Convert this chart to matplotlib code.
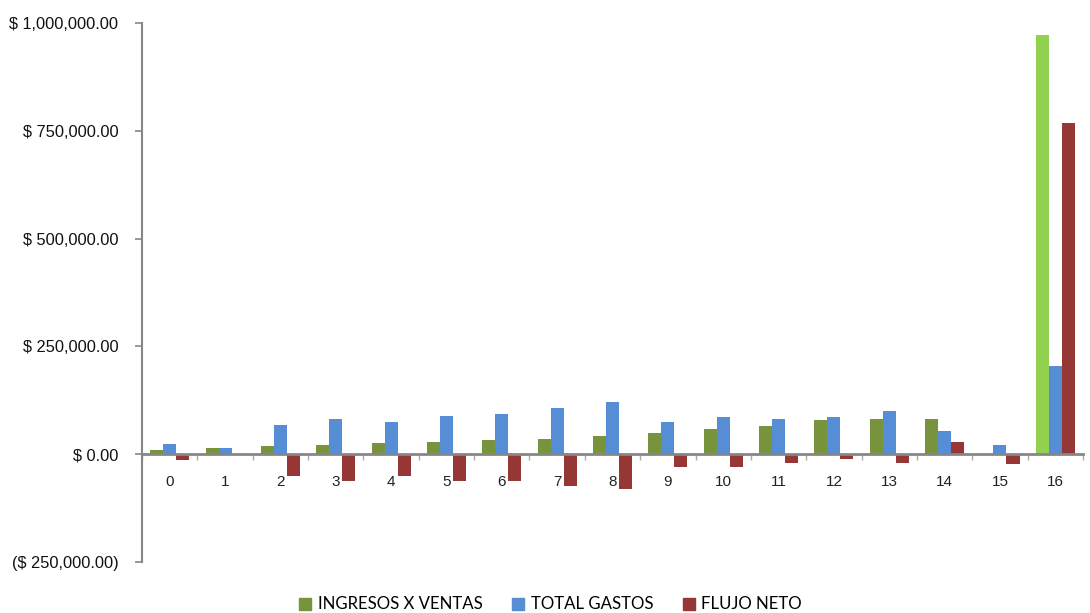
"""Flujo de caja por periodo: ingresos, gastos y flujo neto."""

import matplotlib
matplotlib.use("Agg")
import matplotlib.pyplot as plt
import numpy as np
from matplotlib.patches import Patch
from matplotlib.ticker import FuncFormatter, MultipleLocator

# data
periodos = list(range(17))
ingresos = [10000, 15000, 20000, 22000, 25000, 29000, 34000, 36000, 43000,
            50000, 59000, 66000, 80000, 82000, 82000, 0, 972000]
gastos = [24000, 15000, 68000, 82000, 75000, 89000, 94000, 108000, 122000,
          75000, 87000, 82000, 87000, 101000, 54000, 22000, 204000]
flujo = [-14000, 0, -50000, -62000, -50000, -62000, -62000, -73000, -80000,
         -29000, -29000, -20000, -10000, -20000, 28000, -22000, 768000]
series_names = ["INGRESOS X VENTAS", "TOTAL GASTOS", "FLUJO NETO"]

c_green = "#77933C"
c_green_last = "#92D050"
c_blue = "#558ED5"
c_red = "#953735"
axis_gray = "#868686"

plt.rcParams["font.family"] = ["Liberation Sans", "DejaVu Sans"]

fig = plt.figure(figsize=(10.9, 6.13), dpi=100)
ax = fig.add_axes([0.1303, 0.0832, 0.8633, 0.8793])

x = np.arange(len(periodos))
w = 0.235
green_cols = [c_green] * (len(periodos) - 1) + [c_green_last]
ax.bar(x - w, ingresos, w, color=green_cols, linewidth=0)
ax.bar(x, gastos, w, color=c_blue, linewidth=0)
ax.bar(x + w, flujo, w, color=c_red, linewidth=0)

ax.set_xlim(-0.5, len(periodos) - 0.5)
ax.set_ylim(-250000, 1000000)
ax.yaxis.set_major_locator(MultipleLocator(250000))


def money(v, pos):
    if v < 0:
        return f"($ {abs(v):,.2f})"
    return f"$ {v:,.2f}"


ax.yaxis.set_major_formatter(FuncFormatter(money))

for s in ("top", "right"):
    ax.spines[s].set_visible(False)
ax.spines["bottom"].set_position(("data", 0))
ax.spines["bottom"].set_color(axis_gray)
ax.spines["bottom"].set_linewidth(2)
ax.spines["left"].set_color(axis_gray)
ax.spines["left"].set_linewidth(1.5)

ax.set_xticks(x)
ax.set_xticklabels([str(p) for p in periodos])
ax.set_xticks(np.arange(-0.5, len(periodos), 1.0), minor=True)
ax.tick_params(axis="x", which="major", length=0, pad=15, labelsize=11,
               colors="#222222")
ax.tick_params(axis="x", which="minor", length=4, width=1, color="#aaaaaa",
               direction="out")
ax.tick_params(axis="y", length=5, width=1.2, color=axis_gray,
               labelcolor="#111111", labelsize=11.8, pad=12)

handles = [Patch(color=c_green), Patch(color=c_blue), Patch(color=c_red)]
fig.legend(handles, series_names, loc="center", bbox_to_anchor=(0.505, 0.014),
           ncol=3, frameon=False, handlelength=0.72, handleheight=0.72,
           handletextpad=0.4, columnspacing=1.75,
           prop={"family": "Lato", "size": 12.1})

fig.savefig("out.png", dpi=100)
